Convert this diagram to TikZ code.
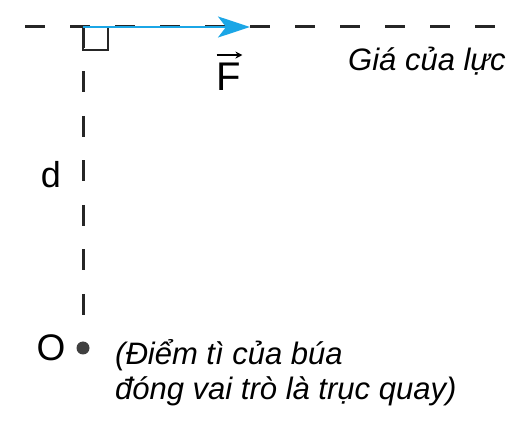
\documentclass[tikz,border=0pt]{standalone}
\usepackage{fontspec}
\setmainfont{Liberation Sans}
\usetikzlibrary{arrows.meta}
\definecolor{forceblue}{HTML}{1BA6E6}
\definecolor{dashgray}{HTML}{262626}
\definecolor{dotgray}{HTML}{404040}
\tikzset{
  dashline/.style={draw=dashgray, line width=3pt, dash pattern=on 20pt off 25pt},
  label/.style={inner sep=0pt, text=black},
  forcearrow/.style={draw=forceblue, line width=2.4pt, -{Stealth[length=32pt, width=21pt, inset=8pt]}},
  rightangle/.style={draw=dashgray, line width=2.8pt},
  pivot/.style={circle, fill=dotgray, minimum size=13pt, inner sep=0pt}
}
\begin{document}
\begin{tikzpicture}[x=1pt, y=-1pt]
\useasboundingbox (0,0) rectangle (528,422);
% line of action
\coordinate (L) at (25,27);
\coordinate (R) at (495,27);
\coordinate (A) at (83,27);
\coordinate (Vend) at (83,315);
\coordinate (Ftip) at (250,27);
\node[pivot] (Odot) at (83,348) {};
\draw[dashline] (L) -- (R);
\draw[dashline, dash pattern=on 21pt off 23.5pt] (A) -- (Vend);
% right angle mark
\draw[rightangle] (A) -- ++(0,23) -- ++(25,0) -- ++(0,-23);
% force
\draw[forcearrow] (A) -- (Ftip);
\node[label, font=\fontsize{40}{42}\selectfont] (F) at (229,77) {F};
\draw[black, line width=1.4pt, -{Stealth[length=7pt, width=7pt]}] ([yshift=8pt]F.north west) -- ([yshift=8pt,xshift=1pt]F.north east);
% labels
\node[label, font=\fontsize{36}{38}\selectfont] (d) at (51,175) {d};
\node[label, font=\fontsize{37}{40}\selectfont] (O) at (51,348) {O};
\node[label, anchor=base west, font=\fontsize{31}{34}\itshape] (gia) at (348,71) {Giá của lực};
\node[label, anchor=north west, align=left, font=\fontsize{31}{35}\itshape] (note) at (115,339) {(Điểm tì của búa\\đóng vai trò là trục quay)};
\end{tikzpicture}
\end{document}
